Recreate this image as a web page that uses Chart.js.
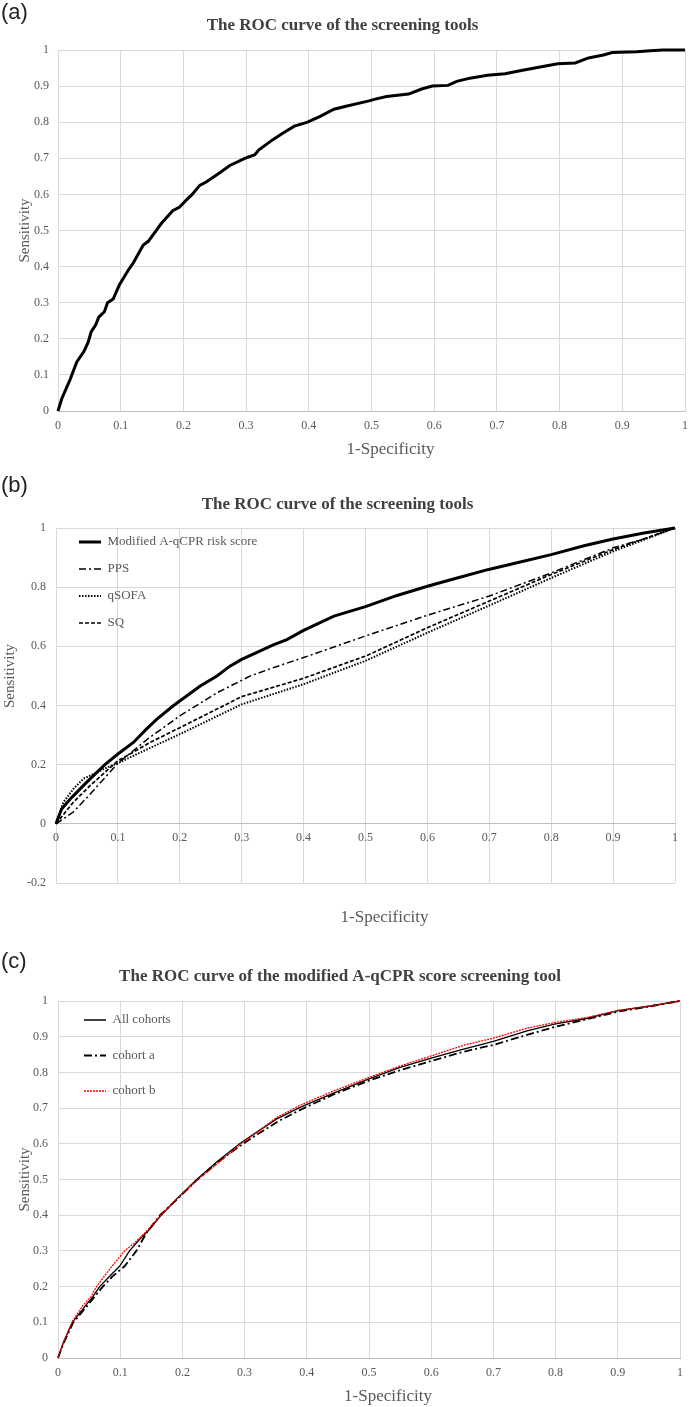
<!DOCTYPE html>
<html>
<head>
<meta charset="utf-8">
<script src="https://cdn.jsdelivr.net/npm/chart.js@4.4.1/dist/chart.umd.min.js"></script>
<style>
  html, body { margin: 0; padding: 0; background: #fff; }
  #page { position: relative; width: 689px; height: 1407px; overflow: hidden; }
  canvas { position: absolute; left: 0; }
  .tag { position: absolute; left: 1px; font: 22px 'Liberation Sans', Arial, sans-serif; color: #222; line-height: 1; }
</style>
</head>
<body>
<div id="page">
  <canvas id="chartA" width="689" height="465" style="top:0"></canvas>
  <canvas id="chartB" width="689" height="465" style="top:465px"></canvas>
  <canvas id="chartC" width="689" height="477" style="top:930px"></canvas>
  <div class="tag" style="top:1px">(a)</div>
  <div class="tag" style="top:474px">(b)</div>
  <div class="tag" style="top:950px">(c)</div>
</div>
<script>
// (a) ROC curve of the screening tool
const aFpr = [0, 0.006, 0.013, 0.02, 0.022, 0.03, 0.041, 0.048, 0.053, 0.06, 0.065, 0.074, 0.079, 0.088,
  0.098, 0.112, 0.12, 0.136, 0.144, 0.165, 0.183, 0.194, 0.205, 0.214, 0.226, 0.237, 0.258, 0.274,
  0.298, 0.314, 0.32, 0.342, 0.359, 0.377, 0.398, 0.419, 0.44, 0.461, 0.496, 0.506, 0.524, 0.559,
  0.58, 0.597, 0.622, 0.636, 0.657, 0.685, 0.713, 0.741, 0.769, 0.797, 0.825, 0.846, 0.87, 0.884,
  0.923, 0.944, 0.965, 1];
const aTpr = [0, 0.034, 0.062, 0.09, 0.1, 0.136, 0.164, 0.19, 0.22, 0.238, 0.26, 0.275, 0.3, 0.31,
  0.35, 0.39, 0.41, 0.46, 0.47, 0.52, 0.555, 0.565, 0.585, 0.6, 0.625, 0.635, 0.66, 0.68,
  0.7, 0.71, 0.723, 0.751, 0.77, 0.789, 0.8, 0.817, 0.836, 0.845, 0.859, 0.864, 0.871, 0.878,
  0.892, 0.9, 0.902, 0.913, 0.922, 0.93, 0.934, 0.944, 0.953, 0.962, 0.964, 0.978, 0.986, 0.993,
  0.995, 0.998, 1, 1];

// (b) four screening tools
const modFpr = [0, 0.009, 0.023, 0.039, 0.055, 0.066, 0.079, 0.1, 0.125, 0.146, 0.163, 0.19, 0.211, 0.233,
  0.26, 0.281, 0.3, 0.33, 0.351, 0.373, 0.4, 0.449, 0.5, 0.551, 0.6, 0.648, 0.699, 0.75, 0.8, 0.853,
  0.9, 0.95, 1];
const modTpr = [0, 0.05, 0.084, 0.118, 0.152, 0.174, 0.2, 0.236, 0.275, 0.32, 0.354, 0.4, 0.432, 0.466,
  0.5, 0.533, 0.556, 0.585, 0.605, 0.623, 0.654, 0.702, 0.734, 0.772, 0.803, 0.831, 0.86, 0.885, 0.91, 0.94,
  0.963, 0.983, 1];
const ppsFpr = [0, 0.028, 0.055, 0.082, 0.1, 0.15, 0.2, 0.26, 0.314, 0.35, 0.4, 0.5, 0.6, 0.7, 0.8, 0.9, 0.95, 1];
const ppsTpr = [0, 0.04, 0.1, 0.163, 0.205, 0.29, 0.365, 0.443, 0.5, 0.527, 0.562, 0.635, 0.705, 0.77, 0.848, 0.933, 0.963, 1];
const qsofaFpr = [0, 0.012, 0.028, 0.044, 0.06, 0.082, 0.1, 0.136, 0.2, 0.3, 0.4, 0.5, 0.6, 0.7, 0.8, 0.9, 1];
const qsofaTpr = [0, 0.073, 0.118, 0.152, 0.168, 0.19, 0.205, 0.241, 0.303, 0.404, 0.472, 0.551, 0.646, 0.738, 0.831, 0.921, 1];
const sqFpr = [0, 0.028, 0.055, 0.082, 0.1, 0.152, 0.2, 0.3, 0.4, 0.5, 0.6, 0.7, 0.8, 0.9, 1];
const sqTpr = [0, 0.073, 0.129, 0.18, 0.213, 0.275, 0.325, 0.43, 0.492, 0.567, 0.663, 0.753, 0.843, 0.927, 1];

// (c) modified A-qCPR score by cohort
const allFpr = [0, 0.009, 0.023, 0.043, 0.056, 0.067, 0.083, 0.099, 0.115, 0.131, 0.147, 0.166, 0.19, 0.223,
  0.257, 0.292, 0.319, 0.351, 0.389, 0.443, 0.5, 0.55, 0.6, 0.652, 0.7, 0.754, 0.8, 0.85, 0.9, 0.952, 1];
const allTpr = [0, 0.044, 0.1, 0.144, 0.172, 0.2, 0.229, 0.257, 0.3, 0.332, 0.36, 0.4, 0.444, 0.5,
  0.552, 0.6, 0.632, 0.669, 0.702, 0.742, 0.782, 0.814, 0.84, 0.865, 0.887, 0.916, 0.936, 0.951, 0.973, 0.986, 1];
const cohAFpr = [0, 0.009, 0.024, 0.045, 0.058, 0.072, 0.088, 0.107, 0.126, 0.142, 0.164, 0.19, 0.223, 0.258,
  0.295, 0.322, 0.355, 0.393, 0.443, 0.5, 0.55, 0.6, 0.652, 0.7, 0.754, 0.8, 0.85, 0.9, 0.952, 1];
const cohATpr = [0, 0.042, 0.098, 0.142, 0.17, 0.2, 0.229, 0.257, 0.3, 0.35, 0.4, 0.442, 0.498, 0.55,
  0.597, 0.628, 0.664, 0.698, 0.738, 0.777, 0.806, 0.832, 0.858, 0.877, 0.905, 0.928, 0.949, 0.97, 0.985, 1];
const cohBFpr = [0, 0.009, 0.023, 0.04, 0.053, 0.062, 0.077, 0.091, 0.107, 0.123, 0.145, 0.165, 0.19, 0.225,
  0.26, 0.292, 0.32, 0.35, 0.389, 0.443, 0.5, 0.55, 0.6, 0.654, 0.7, 0.754, 0.8, 0.85, 0.9, 0.952, 1];
const cohBTpr = [0, 0.046, 0.102, 0.147, 0.172, 0.2, 0.235, 0.266, 0.3, 0.322, 0.36, 0.4, 0.445, 0.5,
  0.55, 0.597, 0.632, 0.672, 0.708, 0.748, 0.786, 0.818, 0.846, 0.877, 0.896, 0.924, 0.94, 0.954, 0.973, 0.986, 1];

const GREY = '#595959';
const GRID = '#d9d9d9';
Chart.defaults.font.family = "'Liberation Serif', 'Times New Roman', serif";
Chart.defaults.font.size = 12;
Chart.defaults.color = GREY;
Chart.defaults.animation = false;

function pts(xs, ys) {
  return xs.map((x, i) => ({ x: x, y: ys[i] }));
}

function curve(label, xs, ys, color, width, dash, order) {
  return {
    label: label, data: pts(xs, ys),
    borderColor: color, backgroundColor: color,
    borderWidth: width, borderDash: dash || [],
    pointRadius: 0, tension: 0, clip: false, fill: false,
    order: order || 0
  };
}

// "0.30000001" -> "0.3", "1.0" -> "1"
const fmt = v => String(Math.round(v * 10) / 10);

// move the title-only scales and the legend once layout is done
function nudge(titleDx, titleDy, legendShift) {
  return {
    id: 'nudge',
    afterLayout(chart) {
      const xt = chart.scales.xt;
      xt.left += titleDx;
      xt.right += titleDx;
      const yt = chart.scales.yt;
      yt.top += titleDy;
      yt.bottom += titleDy;
      if (legendShift) {
        const lg = chart.legend;
        lg.left = chart.chartArea.left + legendShift[0];
        lg.top = chart.chartArea.top + legendShift[1];
        lg.bottom = lg.top + lg.height;
      }
    }
  };
}

function scales(o) {
  return {
    x: {
      type: 'linear', min: 0, max: 1, position: o.xPos || 'bottom', weight: 0,
      // gap below the axis comes from an invisible tick mark so the right edge is not padded
      ticks: { stepSize: 0.1, padding: 0, maxRotation: 0, autoSkip: false, callback: fmt },
      grid: { color: GRID, drawTicks: true, tickLength: o.xPad, tickColor: 'rgba(0,0,0,0)' },
      border: { color: '#bfbfbf' },
      afterFit: s => { if (o.xH) s.height = o.xH; }
    },
    xt: {
      type: 'linear', min: 0, max: 1, position: 'bottom', weight: 1,
      grid: { display: false, drawTicks: false },
      border: { display: false },
      ticks: { display: false },
      title: { display: true, text: '1-Specificity', color: GREY, font: { size: 17 }, padding: { top: 0, bottom: o.tPad } },
      afterFit: s => { s.height = o.tH; }
    },
    y: {
      type: 'linear', min: o.yMin, max: 1, position: 'left', weight: 0,
      ticks: { stepSize: o.yStep, padding: o.yPad, autoSkip: false, callback: fmt },
      grid: { color: GRID, drawTicks: false },
      border: { display: false },
      afterFit: s => { s.width = o.yW - 20; }
    },
    yt: {
      type: 'linear', min: 0, max: 1, position: 'left', weight: 1,
      grid: { display: false, drawTicks: false },
      border: { display: false },
      ticks: { display: false },
      title: { display: true, text: 'Sensitivity', color: GREY, font: { size: 15 }, padding: { top: o.yTitle, bottom: 0 } },
      afterFit: s => { s.width = 20; }
    }
  };
}

function chartTitle(text, top, bottom) {
  return { display: true, text: text, color: '#404040', font: { size: 17, weight: 'bold' }, padding: { top: top, bottom: bottom } };
}

function legendOpts(pad) {
  return {
    display: true, position: 'chartArea', align: 'start',
    labels: {
      usePointStyle: true, pointStyle: 'line', pointStyleWidth: 22,
      padding: pad, color: GREY, font: { size: 13 },
      generateLabels: chart => chart.data.datasets.map((ds, i) => ({
        text: ds.label, datasetIndex: i, hidden: false, fontColor: GREY,
        strokeStyle: ds.borderColor, fillStyle: ds.borderColor,
        lineWidth: ds.borderWidth, lineDash: ds.borderDash, lineCap: 'butt',
        pointStyle: 'line'
      }))
    }
  };
}

new Chart(document.getElementById('chartA'), {
  type: 'line',
  data: { datasets: [curve('ROC', aFpr, aTpr, '#000000', 3)] },
  options: {
    responsive: false,
    layout: { padding: { left: 0, right: 4, top: 0, bottom: 0 } },
    scales: scales({ xPad: 8, xH: 30, tPad: 4.8, tH: 24, yMin: 0, yStep: 0.1, yPad: 9, yTitle: 16, yW: 58 }),
    plugins: {
      title: chartTitle('The ROC curve of the screening tools', 15.8, 13.8),
      legend: { display: false },
      tooltip: { enabled: false }
    }
  },
  plugins: [nudge(19, 0)]
});

new Chart(document.getElementById('chartB'), {
  type: 'line',
  data: {
    datasets: [
      curve('Modified A-qCPR risk score', modFpr, modTpr, '#000000', 3, []),
      curve('PPS', ppsFpr, ppsTpr, '#000000', 1.5, [7, 3, 2, 3]),
      curve('qSOFA', qsofaFpr, qsofaTpr, '#000000', 2, [1.5, 1.5]),
      curve('SQ', sqFpr, sqTpr, '#000000', 1.7, [4, 2])
    ]
  },
  options: {
    responsive: false,
    layout: { padding: { left: 0, right: 14, top: 0, bottom: 0 } },
    scales: scales({ xPos: { y: 0 }, xPad: 7, tPad: 1.8, tH: 47, yMin: -0.2, yStep: 0.2, yPad: 10, yTitle: 1, yW: 56 }),
    plugins: {
      title: chartTitle('The ROC curve of the screening tools', 29.8, 12.8),
      legend: legendOpts(14),
      tooltip: { enabled: false }
    }
  },
  plugins: [nudge(19, -29.5, [9, -6.5])]
});

new Chart(document.getElementById('chartC'), {
  type: 'line',
  data: {
    datasets: [
      curve('All cohorts', allFpr, allTpr, '#000000', 1.3, [], 2),
      curve('cohort a', cohAFpr, cohATpr, '#000000', 1.8, [8, 3, 2, 3], 1),
      curve('cohort b', cohBFpr, cohBTpr, '#ff0000', 1.3, [2, 1], 0)
    ]
  },
  options: {
    responsive: false,
    layout: { padding: { left: 0, right: 9, top: 0, bottom: 0 } },
    scales: scales({ xPad: 8, xH: 28, tPad: 0, tH: 21, yMin: 0, yStep: 0.1, yPad: 10, yTitle: 16, yW: 58 }),
    plugins: {
      title: chartTitle('The ROC curve of the modified A-qCPR score screening tool', 36.8, 13.8),
      legend: legendOpts(22.5),
      tooltip: { enabled: false }
    }
  },
  plugins: [nudge(19, 0, [3.5, -10])]
});
</script>
</body>
</html>
